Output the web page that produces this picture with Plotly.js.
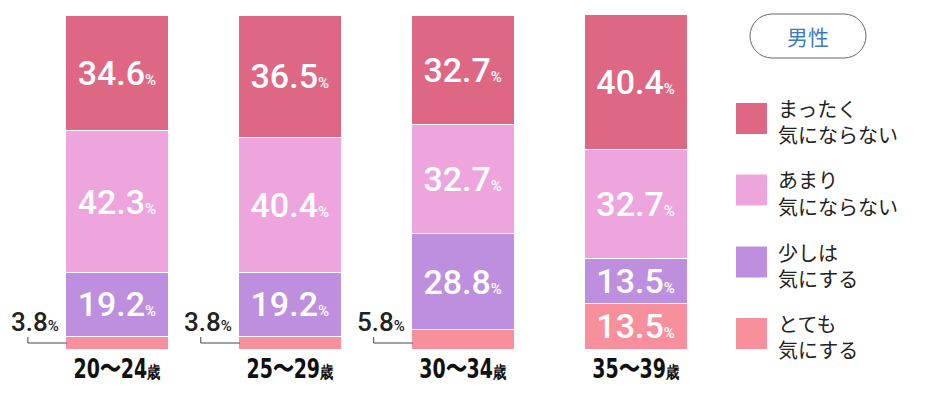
<!DOCTYPE html>
<html><head><meta charset="utf-8">
<script src="https://cdn.plot.ly/plotly-3.0.1.min.js"></script>
<style>html,body{margin:0;padding:0;background:#fff}</style>
</head><body><div id="chart" style="width:930px;height:402px"></div>
<script>
// ---- data ----
const ageGroups = ['20〜24', '25〜29', '30〜34', '35〜39'];
const ageSuffix = '歳';
const notAtAll   = [34.6, 36.5, 32.7, 40.4];   // まったく気にならない
const notMuch    = [42.3, 40.4, 32.7, 32.7];   // あまり気にならない
const somewhat   = [19.2, 19.2, 28.8, 13.5];   // 少しは気にする
const veryMuch   = [3.8, 3.8, 5.8, 13.5];      // とても気にする
const seriesLine1 = ['まったく', 'あまり', '少しは', 'とても'];
const seriesLine2 = ['気にならない', '気にならない', '気にする', '気にする'];
const badgeText = '男性';

// ---- styles ----
const colors = ['#DE6884', '#EEA5DE', '#BE8EDF', '#F88F9D'];
const W = 930, H = 402, mT = 15, mB = 53, plotH = H - mT - mB;
const pxToPaperY = py => (H - mB - py) / plotH;
const pxToPaperX = px => px / W;

const pct = '<span style="font-size:15px">%</span>';
// stacked bottom -> top
const stack = [veryMuch, somewhat, notMuch, notAtAll];
const stackColors = [colors[3], colors[2], colors[1], colors[0]];
const traces = stack.map((vals, k) => ({
  type: 'bar',
  x: ageGroups,
  y: vals,
  width: 0.596,
  marker: {color: stackColors[k], line: {color: '#ffffff', width: 1}},
  text: vals.map(v => v >= 10 ? v.toFixed(1) + pct : ''),
  textposition: 'inside',
  insidetextanchor: 'middle',
  textangle: 0,
  constraintext: 'none',
  textfont: {family: 'Roboto, sans-serif', size: 34, color: '#ffffff', weight: 500},
  hoverinfo: 'skip',
  showlegend: false
}));

const annotations = [];
const shapes = [];
// outside labels for small bottom segments
veryMuch.forEach((v, i) => {
  if (v < 10) {
    annotations.push({
      x: i, y: 0, xref: 'x', yref: 'y', showarrow: false,
      xshift: -82, yshift: 27, xanchor: 'center', yanchor: 'middle',
      text: v.toFixed(1) + pct,
      font: {family: 'Roboto, sans-serif', size: 26, color: '#222222', weight: 500}
    });
    shapes.push({
      type: 'path', xref: 'x', yref: 'y',
      xsizemode: 'pixel', ysizemode: 'pixel', xanchor: i, yanchor: 0,
      path: 'M -89,12 L -89,6 L -50,6',
      line: {color: '#444444', width: 1}
    });
  }
});

// custom legend
const legendCentersPx = [118.5, 190, 262, 333.5];
seriesLine1.forEach((l1, k) => {
  const cy = legendCentersPx[k];
  shapes.push({
    type: 'rect', xref: 'paper', yref: 'paper',
    x0: pxToPaperX(736), x1: pxToPaperX(767),
    y0: pxToPaperY(cy - 15.5), y1: pxToPaperY(cy + 15.5),
    fillcolor: colors[k], line: {width: 0}
  });
  [[l1, cy - 10], [seriesLine2[k], cy + 16]].forEach(([txt, ly]) => {
    annotations.push({
      xref: 'paper', yref: 'paper', x: pxToPaperX(776), y: pxToPaperY(ly),
      xanchor: 'left', yanchor: 'middle', align: 'left', showarrow: false,
      text: txt,
      font: {family: '"Noto Sans CJK JP", sans-serif', size: 20, color: '#222222'}
    });
  });
});

// badge (pill)
const kk = 12.15;
shapes.push({
  type: 'path', xref: 'paper', yref: 'paper',
  xsizemode: 'pixel', ysizemode: 'pixel',
  xanchor: pxToPaperX(808), yanchor: pxToPaperY(36),
  path: `M -36,22 L 36,22 C ${36+kk},22 58,${kk} 58,0 C 58,${-kk} ${36+kk},-22 36,-22 L -36,-22 C ${-36-kk},-22 -58,${-kk} -58,0 C -58,${kk} ${-36-kk},22 -36,22 Z`,
  line: {color: '#666666', width: 1}
});
annotations.push({
  xref: 'paper', yref: 'paper', x: pxToPaperX(808), y: pxToPaperY(36),
  xanchor: 'center', yanchor: 'middle', showarrow: false,
  text: badgeText,
  font: {family: '"Noto Sans CJK JP", sans-serif', size: 21, color: '#3B7CC0'}
});

const layout = {
  width: W, height: H,
  margin: {l: 0, r: 0, t: mT, b: mB, pad: 0},
  barmode: 'stack',
  paper_bgcolor: '#ffffff', plot_bgcolor: '#ffffff',
  xaxis: {
    type: 'category', range: [-0.676, 4.703],
    tickvals: ageGroups,
    ticktext: ageGroups.map(g => g + '<span style="font-size:17px">' + ageSuffix + '</span>'),
    ticks: '', showgrid: false, zeroline: false, showline: false,
    ticklabelstandoff: 1,
    tickfont: {family: '"DejaVu Sans Condensed", "DejaVu Sans", sans-serif', size: 27, color: '#111111', weight: 'bold'}
  },
  yaxis: {range: [0, 100], visible: false, fixedrange: true},
  shapes: shapes,
  annotations: annotations,
  showlegend: false
};

Plotly.newPlot('chart', traces, layout, {displayModeBar: false, staticPlot: true}).then(() => {
  // condense the tick labels horizontally around their own anchor
  document.querySelectorAll('#chart .xtick text').forEach(t => {
    const x = parseFloat(t.getAttribute('x') || '0');
    const tr = t.getAttribute('transform') || '';
    t.setAttribute('transform', `${tr} translate(${x},0) scale(0.78,1) translate(${-x},0)`);
  });
});
</script></body></html>
